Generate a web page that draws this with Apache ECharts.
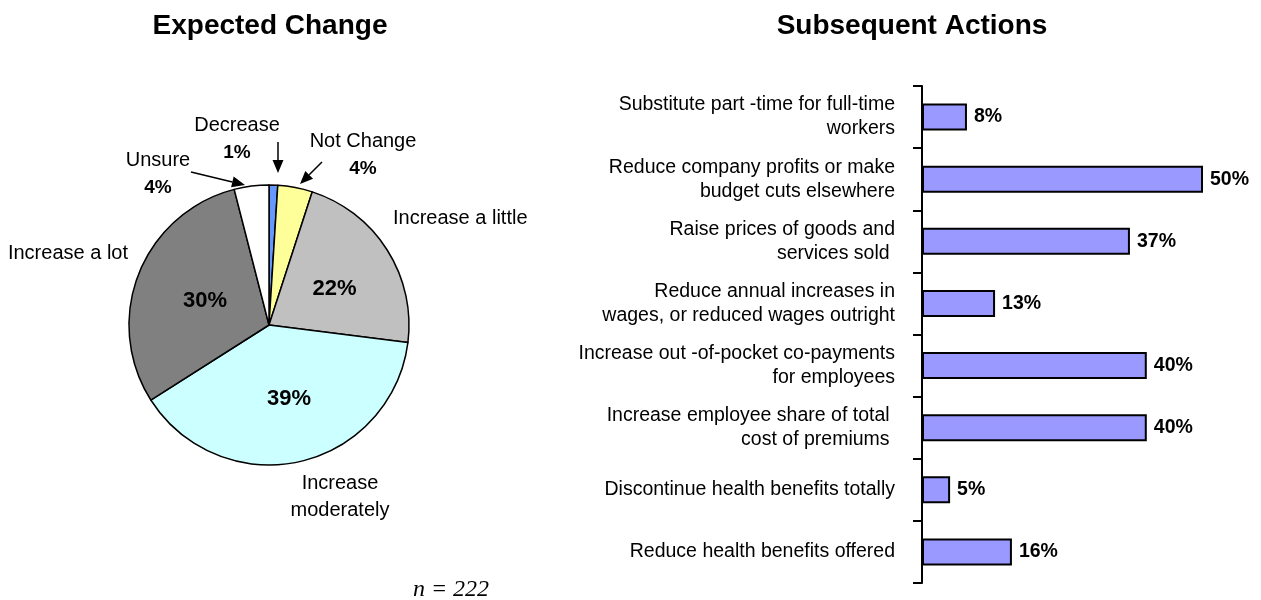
<!DOCTYPE html>
<html>
<head>
<meta charset="utf-8">
<script src="https://cdn.jsdelivr.net/npm/echarts@6/dist/echarts.min.js"></script>
<style>
  html, body { margin: 0; padding: 0; background: #fff; }
  #main { width: 1261px; height: 600px; }
</style>
</head>
<body>
<div id="main"></div>
<script>
// pie: expected change
var pieNames = ['Decrease', 'Not Change', 'Increase a little', 'Increase moderately', 'Increase a lot', 'Unsure'];
var pieValues = [1, 4, 22, 39, 30, 4];
var pieColors = ['#6699FF', '#FFFF99', '#C0C0C0', '#CCFFFF', '#808080', '#FFFFFF'];

// bars: subsequent actions
var actions = [
  'Substitute part -time for full-time\nworkers',
  'Reduce company profits or make\nbudget cuts elsewhere',
  'Raise prices of goods and\nservices sold ',
  'Reduce annual increases in\nwages, or reduced wages outright',
  'Increase out -of-pocket co-payments\nfor employees',
  'Increase employee share of total \ncost of premiums ',
  'Discontinue health benefits totally',
  'Reduce health benefits offered'
];
var actionValues = [8, 50, 37, 13, 40, 40, 5, 16];

var FONT = "'Liberation Sans', Arial, sans-serif";

// where the outside pie labels sit
var outerLabelPos = [
  { x: 237, y: 139, align: 'center' },
  { x: 363, y: 155, align: 'center' },
  { x: 393, y: 218, align: 'left' },
  { x: 340, y: 497, align: 'center' },
  { x: 128, y: 253, align: 'right' },
  { x: 158, y: 174, align: 'center' }
];

function arrow(x1, y1, x2, y2) {
  var a = Math.atan2(y2 - y1, x2 - x1), L = 13, W = 5.5;
  var bx = x2 - L * Math.cos(a), by = y2 - L * Math.sin(a);
  return [
    { type: 'line', shape: { x1: x1, y1: y1, x2: bx, y2: by }, style: { stroke: '#000', lineWidth: 1.5 } },
    { type: 'polygon', shape: { points: [[x2, y2], [bx - W * Math.sin(a), by + W * Math.cos(a)], [bx + W * Math.sin(a), by - W * Math.cos(a)]] }, style: { fill: '#000' } }
  ];
}

var chart = echarts.init(document.getElementById('main'));

var pieData = pieNames.map(function (n, i) {
  return { name: n, value: pieValues[i], itemStyle: { color: pieColors[i] }, label: { show: pieValues[i] >= 10 } };
});

var option = {
  animation: false,
  backgroundColor: '#fff',
  graphic: [
    { type: 'text', x: 270, y: 26, style: { text: 'Expected Change', align: 'center', verticalAlign: 'middle', font: 'bold 28px ' + FONT, fill: '#000' } },
    { type: 'text', x: 912, y: 26, style: { text: 'Subsequent Actions', align: 'center', verticalAlign: 'middle', font: 'bold 28px ' + FONT, fill: '#000' } },
    { type: 'text', x: 451, y: 590, style: { text: 'n = 222', align: 'center', verticalAlign: 'middle', font: 'italic 24px "Liberation Serif", "Times New Roman", serif', fill: '#000' } }
  ].concat(arrow(278, 142, 278, 173), arrow(322, 162, 300, 184), arrow(191, 172, 245, 185)),
  grid: { left: 922, right: 58, top: 86, bottom: 17 },
  xAxis: { type: 'value', min: 0, max: 50, show: false },
  yAxis: {
    type: 'category',
    data: actions,
    inverse: true,
    axisLine: { lineStyle: { color: '#000', width: 2 } },
    axisTick: { show: true, length: 9, lineStyle: { color: '#000', width: 2 } },
    axisLabel: { margin: 27, color: '#000', fontSize: 19.5, fontFamily: FONT, lineHeight: 24, align: 'right' }
  },
  series: [
    {
      type: 'pie',
      center: [269, 325],
      radius: 140,
      startAngle: 90,
      clockwise: true,
      silent: true,
      data: pieData,
      itemStyle: { borderColor: '#000', borderWidth: 1.5 },
      label: { position: 'inside', formatter: '{c}%', fontSize: 22, fontWeight: 'bold', color: '#000', fontFamily: FONT },
      labelLine: { show: false },
      labelLayout: function (params) {
        return { dx: 4, dy: 3 };
      }
    },
    {
      type: 'pie',
      center: [269, 325],
      radius: 140,
      startAngle: 90,
      clockwise: true,
      silent: true,
      z: 3,
      data: pieNames.map(function (n, i) { return { name: n, value: pieValues[i] }; }),
      itemStyle: { color: 'rgba(0,0,0,0)', borderWidth: 0 },
      label: {
        position: 'outside',
        overflow: 'none',
        color: '#000',
        fontFamily: FONT,
        formatter: function (p) {
          if (p.value >= 10) return p.dataIndex === 3 ? '{n|Increase}\n{n|moderately}' : '{n|' + p.name + '}';
          return '{n|' + p.name + '}\n{p|' + p.value + '%}';
        },
        rich: {
          n: { fontSize: 20, fontFamily: FONT, color: '#000', lineHeight: 27 },
          p: { fontSize: 19, fontWeight: 'bold', fontFamily: FONT, color: '#000', lineHeight: 27 }
        }
      },
      labelLine: { show: false },
      labelLayout: function (params) {
        var p = outerLabelPos[params.dataIndex];
        return { x: p.x, y: p.y, align: p.align, verticalAlign: 'middle', hideOverlap: false };
      }
    },
    {
      type: 'bar',
      data: actionValues,
      barWidth: 27,
      itemStyle: { color: '#9999FF', borderColor: '#000', borderWidth: 2 },
      label: { show: true, position: 'right', distance: 7, formatter: '{c}%', fontSize: 19.5, fontWeight: 'bold', color: '#000', fontFamily: FONT }
    }
  ]
};

chart.setOption(option);
window.addEventListener('resize', chart.resize);
</script>
</body>
</html>
